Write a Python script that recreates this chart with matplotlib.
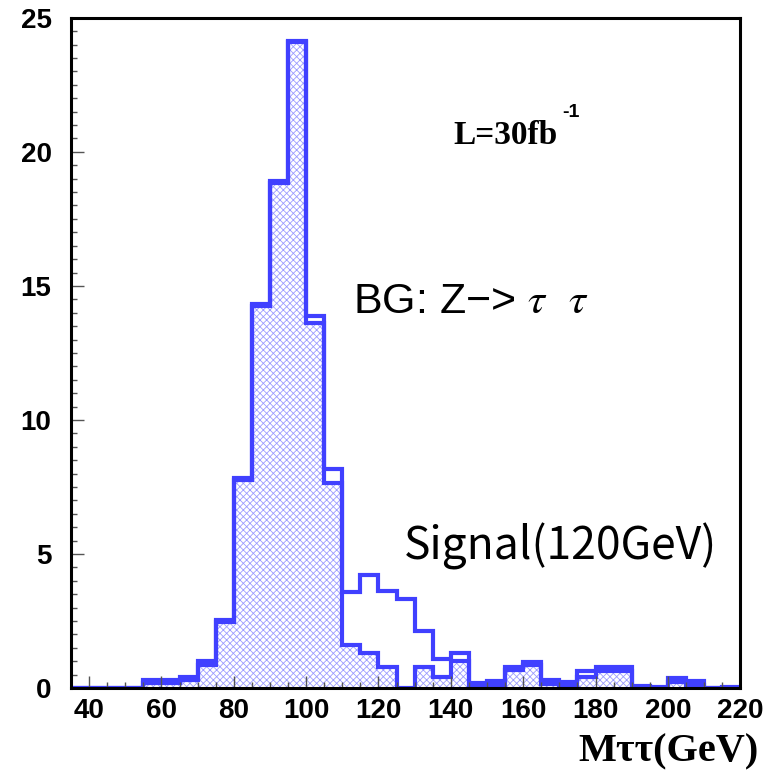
import numpy as np
import matplotlib
matplotlib.use('Agg')
import matplotlib.pyplot as plt
from matplotlib.ticker import MultipleLocator

# bin edges of the M_tautau histogram (5 GeV bins)
edges = np.arange(35, 225, 5)

# background Z->tautau per bin (hatched)
bg = [0, 0, 0, 0, 0.2, 0.2, 0.3, 0.85, 2.45, 7.75, 14.25, 18.85, 24.1, 13.62,
      7.64, 1.62, 1.3, 0.77, 0, 0.77, 0.4, 1.02, 0.05, 0.1, 0.66, 0.86, 0.15,
      0.12, 0.43, 0.65, 0.65, 0, 0, 0.24, 0.12, 0, 0]
# signal (120 GeV) stacked on top of background
sig = [0, 0, 0, 0, 0.1, 0.1, 0.12, 0.15, 0.09, 0.07, 0.07, 0.05, 0.05, 0.26,
       0.52, 1.98, 2.92, 2.85, 3.31, 1.37, 0.7, 0.28, 0.13, 0.18, 0.12, 0.12, 0.15,
       0.12, 0.19, 0.12, 0.12, 0.08, 0.05, 0.13, 0.15, 0, 0.03]

bg = np.array(bg)
total = bg + np.array(sig)

blue = '#4040ff'
plt.rcParams['hatch.linewidth'] = 0.6
plt.rcParams['mathtext.fontset'] = 'stix'

fig = plt.figure(figsize=(7.8, 7.74), dpi=100)
ax = fig.add_axes([0.091, 0.111, 0.858, 0.866])

ax.stairs(bg, edges, fill=True, facecolor='white', edgecolor='#9c9cff',
          hatch='xxxxx', linewidth=0)
ax.stairs(bg, edges, color=blue, linewidth=3)
ax.stairs(total, edges, color=blue, linewidth=3)

ax.set_xlim(35, 220)
ax.set_ylim(0, 25)
ax.xaxis.set_major_locator(MultipleLocator(20))
ax.xaxis.set_minor_locator(MultipleLocator(5))
ax.yaxis.set_major_locator(MultipleLocator(5))
ax.yaxis.set_minor_locator(MultipleLocator(0.5))
ax.tick_params(which='both', direction='in', top=False, right=False, width=1, color='#555555')
ax.tick_params(which='major', length=9, labelsize=20)
ax.tick_params(axis='x', which='major', pad=7)
ax.tick_params(axis='y', which='major', pad=14)
ax.tick_params(which='minor', length=4.5)
for lab in ax.get_xticklabels() + ax.get_yticklabels():
    lab.set_fontweight('bold')
    lab.set_family('Liberation Sans')
for s in ax.spines.values():
    s.set_linewidth(2.2)

# axis title drawn as text so it can sit right-aligned under the axis
ax.text(225.0, -2.72, 'Mττ(GeV)', ha='right', va='baseline', clip_on=False,
        fontsize=29, fontweight='bold', family='Liberation Serif')
ax.text(140.8, 20.3, 'L=30fb', fontsize=24, fontweight='bold', family='Liberation Serif',
        va='baseline')
ax.text(170.8, 21.3, '-1', fontsize=14, fontweight='bold', family='Liberation Sans',
        va='baseline')
ax.text(112.9, 14.0, r'BG: Z−> $\tau$  $\tau$', fontsize=31, family='Liberation Sans',
        va='baseline')
ax.text(127.0, 4.78, 'Signal(120GeV)', fontsize=32, family=['Noto Sans CJK JP', 'DejaVu Sans'],
        va='baseline')

fig.savefig('out.png', dpi=100)
